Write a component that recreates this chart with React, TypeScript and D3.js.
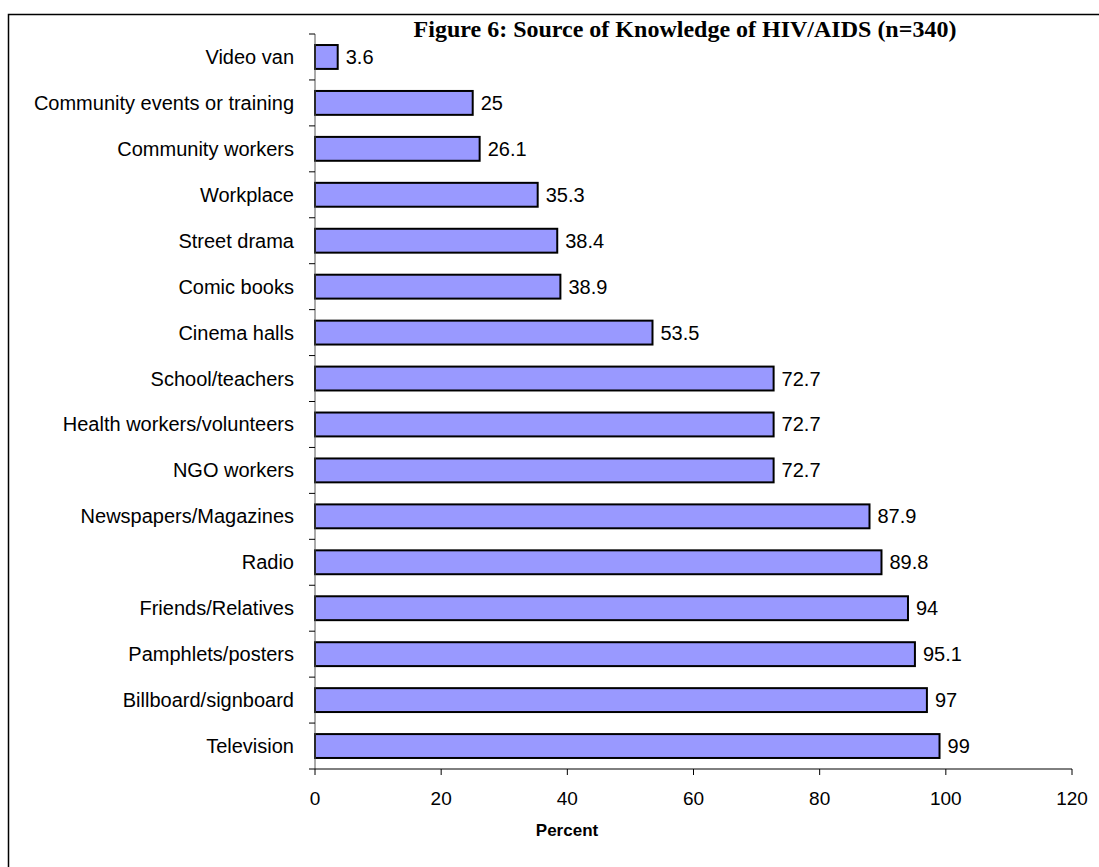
import React from "react";
import * as d3 from "d3";

const categories = [
  "Video van",
  "Community events or training",
  "Community workers",
  "Workplace",
  "Street drama",
  "Comic books",
  "Cinema halls",
  "School/teachers",
  "Health workers/volunteers",
  "NGO workers",
  "Newspapers/Magazines",
  "Radio",
  "Friends/Relatives",
  "Pamphlets/posters",
  "Billboard/signboard",
  "Television",
];
const values = [3.6, 25, 26.1, 35.3, 38.4, 38.9, 53.5, 72.7, 72.7, 72.7, 87.9, 89.8, 94, 95.1, 97, 99];
const xTicks = [0, 20, 40, 60, 80, 100, 120];
const title = "Figure 6: Source of Knowledge of HIV/AIDS (n=340)";
const xLabel = "Percent";

export default function App() {
  const W = 1099, H = 867;
  const left = 315, right = 1072, top = 34, bottom = 769;
  const x = d3.scaleLinear().domain([0, 120]).range([left, right]);
  const y = d3.scaleBand<string>().domain(categories).range([top, bottom]).paddingInner(0.48).paddingOuter(0.24);
  const yb = d3.scaleBand<string>().domain(categories).range([top, bottom]);
  const sans = "Liberation Sans, Arial, sans-serif";
  return (
    <svg width={W} height={H} style={{ position: "absolute", left: 0, top: 0, display: "block", background: "#fff" }}>
      <rect x={8.5} y={14.5} width={W + 20} height={H + 20} fill="none" stroke="#000" strokeWidth={1.5} />
      <text x={685} y={37} textAnchor="middle" fontFamily="Liberation Serif, Times New Roman, serif" fontWeight="bold" fontSize={24}>
        {title}
      </text>
      {/* bars */}
      {categories.map((c, i) => (
        <g key={c}>
          <rect x={x(0)} y={y(c)!} width={x(values[i]) - x(0)} height={y.bandwidth()} fill="#9999FF" stroke="#000" strokeWidth={2} />
          <text x={x(values[i]) + 8} y={y(c)! + y.bandwidth() / 2} dominantBaseline="central" fontFamily={sans} fontSize={20} fill="#000">
            {String(values[i])}
          </text>
          <text x={294} y={y(c)! + y.bandwidth() / 2} dominantBaseline="central" textAnchor="end" fontFamily={sans} fontSize={20} fill="#000">
            {c}
          </text>
        </g>
      ))}
      {/* y axis */}
      <line x1={left} x2={left} y1={top} y2={bottom} stroke="#555" strokeWidth={1} />
      {categories.map((c) => (
        <line key={"t" + c} x1={left - 6} x2={left} y1={yb(c)!} y2={yb(c)!} stroke="#000" strokeWidth={1} />
      ))}
      <line x1={left - 6} x2={left} y1={bottom} y2={bottom} stroke="#000" strokeWidth={1} />
      {/* x axis */}
      <line x1={left} x2={right} y1={bottom} y2={bottom} stroke="#000" strokeWidth={1} />
      {xTicks.map((t) => (
        <g key={"x" + t}>
          <line x1={x(t)} x2={x(t)} y1={bottom} y2={bottom + 6} stroke="#000" strokeWidth={1} />
          <text x={x(t)} y={805} textAnchor="middle" fontFamily={sans} fontSize={19} fill="#000">
            {t}
          </text>
        </g>
      ))}
      <text x={567} y={836} textAnchor="middle" fontFamily={sans} fontWeight="bold" fontSize={17} fill="#000">
        {xLabel}
      </text>
    </svg>
  );
}
